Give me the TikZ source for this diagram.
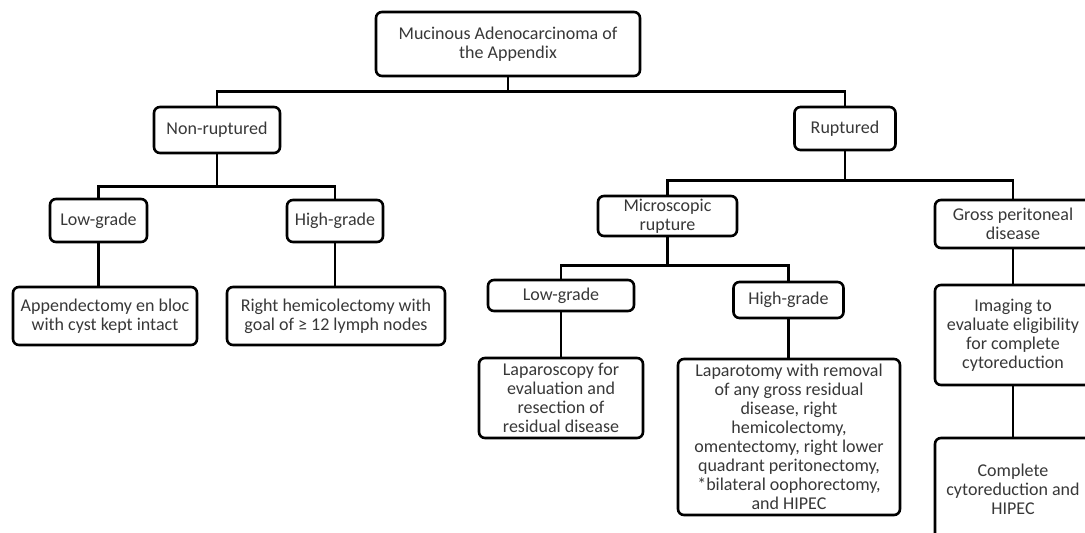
\documentclass[tikz,border=0pt]{standalone}
\usepackage{fontspec}
\setmainfont{Carlito}
\newcommand\boxfont{\fontsize{18}{19}\selectfont}
\tikzset{
  box/.style={draw=black, line width=2.6pt, rounded corners=6pt, align=center,
    inner sep=0pt, text=black!78, font=\boxfont, fill=white},
  link/.style={draw=black, line width=2.6pt}
}
\begin{document}
\begin{tikzpicture}[x=1pt,y=-1pt]
\useasboundingbox[fill=white] (0,0) rectangle (1085,533);
% level 0
\node[box, minimum width=264, minimum height=64] (top) at (508,44) {Mucinous Adenocarcinoma of\\the Appendix};
% level 1
\node[box, minimum width=126, minimum height=46] (nonrupt) at (217,130) {Non-ruptured};
\node[box, minimum width=101, minimum height=43] (rupt) at (845,128.5) {Ruptured};
% left branch
\node[box, minimum width=97, minimum height=43] (lowL) at (98.5,220.5) {Low-grade};
\node[box, minimum width=96, minimum height=42] (highL) at (335,221) {High-grade};
\node[box, minimum width=184, minimum height=58] (app) at (105,316) {Appendectomy en bloc\\with cyst kept intact};
\node[box, minimum width=218, minimum height=58] (hemi) at (336,316) {Right hemicolectomy with\\goal of ≥ 12 lymph nodes};
% right branch
\node[box, minimum width=139, minimum height=40] (micro) at (667.5,216) {Microscopic\\rupture};
\node[box, minimum width=156, minimum height=48] (gross) at (1013,224) {Gross peritoneal\\disease};
\node[box, minimum width=146, minimum height=31] (lowR) at (561,295.5) {Low-grade};
\node[box, minimum width=110, minimum height=36] (highR) at (788.5,300) {High-grade};
\node[box, minimum width=164, minimum height=80] (lapscopy) at (561,398) {Laparoscopy for\\evaluation and\\resection of\\residual disease};
\node[box, minimum width=222, minimum height=156] (laptomy) at (789,437) {Laparotomy with removal\\of any gross residual\\disease, right\\hemicolectomy,\\omentectomy, right lower\\quadrant peritonectomy,\\*bilateral oophorectomy,\\and HIPEC};
\node[box, minimum width=156, minimum height=100] (imaging) at (1013,335) {Imaging to\\evaluate eligibility\\for complete\\cytoreduction};
\node[box, minimum width=156, minimum height=102] (complete) at (1013,489) {Complete\\cytoreduction and\\HIPEC};
% connectors
\draw[link] (top.south) -- ++(0,14) coordinate (j0) -| (nonrupt.north);
\draw[link] (j0) -| (rupt.north);
\draw[link] (nonrupt.south) -- ++(0,32) coordinate (j1) -| (lowL.north);
\draw[link] (j1) -| (highL.north);
\draw[link] (lowL.south) -- (lowL.south |- app.north);
\draw[link] (highL.south) -- (highL.south |- hemi.north);
\draw[link] (rupt.south) -- ++(0,29) coordinate (j2) -| (micro.north);
\draw[link] (j2) -| (gross.north);
\draw[link] (micro.south) -- ++(0,28) coordinate (j3) -| (lowR.north);
\draw[link] (j3) -| (highR.north);
\draw[link] (lowR.south) -- (lowR.south |- lapscopy.north);
\draw[link] (highR.south) -- (highR.south |- laptomy.north);
\draw[link] (gross.south) -- (imaging.north);
\draw[link] (imaging.south) -- (complete.north);
\end{tikzpicture}
\end{document}
